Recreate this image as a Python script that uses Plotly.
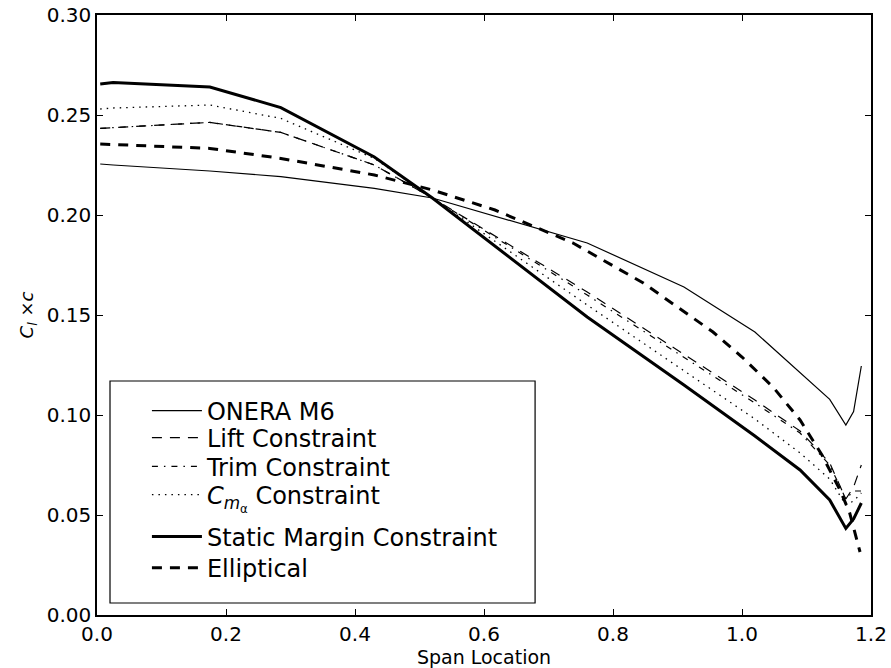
import plotly.graph_objects as go

# span stations
x_st = [0.005, 0.025, 0.175, 0.285, 0.43, 0.52, 0.76, 0.91, 1.02, 1.09, 1.136, 1.161, 1.173, 1.185]

onera = [0.2255, 0.2250, 0.2220, 0.2192, 0.2133, 0.2085, 0.1860, 0.1640, 0.1415, 0.1210, 0.1078, 0.0950, 0.1017, 0.1245]
lift = [0.2433, 0.2437, 0.2463, 0.2413, 0.2250, 0.2085, 0.1615, 0.1305, 0.1075, 0.0920, 0.0760, 0.0580, 0.0640, 0.0750]
trim = [0.2433, 0.2437, 0.2463, 0.2413, 0.2250, 0.2085, 0.1600, 0.1290, 0.1060, 0.0910, 0.0750, 0.0580, 0.0620, 0.0620]
cma = [0.2530, 0.2535, 0.2550, 0.2483, 0.2283, 0.2085, 0.1550, 0.1220, 0.0980, 0.0810, 0.0680, 0.0550, 0.0570, 0.0610]
static = [0.2655, 0.2662, 0.2640, 0.2537, 0.2290, 0.2085, 0.1490, 0.1150, 0.0895, 0.0725, 0.0575, 0.0433, 0.0480, 0.0560]

x_ell = [0.005, 0.175, 0.285, 0.43, 0.52, 0.617, 0.738, 0.847, 0.955, 1.0, 1.048, 1.09, 1.124, 1.152, 1.167, 1.183]
ell = [0.2355, 0.2333, 0.2283, 0.2200, 0.2125, 0.2025, 0.1860, 0.1660, 0.1415, 0.1290, 0.1140, 0.0975, 0.0800, 0.0625, 0.0510, 0.0315]

x_ticks = [0.0, 0.2, 0.4, 0.6, 0.8, 1.0, 1.2]
y_ticks = [0.00, 0.05, 0.10, 0.15, 0.20, 0.25, 0.30]

names = ["ONERA M6", "Lift Constraint", "Trim Constraint",
         "<i>C</i><sub><i>m</i><sub>α</sub></sub> Constraint",
         "Static Margin Constraint", "Elliptical"]

# legend entry vertical centres (paper fraction)
leg_y = [0.340, 0.295, 0.247, 0.200, 0.130, 0.078]

font_fam = "DejaVu Sans, sans-serif"

styles = [
    dict(color="black", width=1.2),
    dict(color="black", width=1.2, dash="10px,8px"),
    dict(color="black", width=1.2, dash="6px,6px,1.5px,6px"),
    dict(color="black", width=1.3, dash="1.5px,5px"),
    dict(color="black", width=3),
    dict(color="black", width=3, dash="10px,8px"),
]
xs = [x_st, x_st, x_st, x_st, x_st, x_ell]
ys = [onera, lift, trim, cma, static, ell]

fig = go.Figure()
legend_layouts = {}
for i in range(6):
    lname = "legend" if i == 0 else f"legend{i+1}"
    fig.add_trace(go.Scatter(x=xs[i], y=ys[i], mode="lines", name=names[i],
                             line=styles[i], legend=lname, showlegend=True))
    legend_layouts[lname] = dict(x=0.0645, y=leg_y[i], xanchor="left", yanchor="middle",
                                 bgcolor="rgba(0,0,0,0)", borderwidth=0, itemwidth=50,
                                 visible=True,
                                 font=dict(family=font_fam, size=24, color="black"))

axis_common = dict(showgrid=False, zeroline=False, showline=True, linecolor="black",
                   linewidth=1.5, mirror="allticks", ticks="inside", ticklen=6,
                   tickcolor="black", tickwidth=1, automargin=False,
                   tickfont=dict(family=font_fam, size=20, color="black"))

fig.update_layout(
    width=891, height=668,
    margin=dict(l=97, r=20, t=15, b=53),
    plot_bgcolor="white", paper_bgcolor="white",
    showlegend=True,
    xaxis=dict(range=[0, 1.2], tickvals=x_ticks, tickformat=".1f",
               title=dict(text="Span Location", font=dict(family=font_fam, size=19, color="black"),
                          standoff=2),
               **axis_common),
    yaxis=dict(range=[0, 0.30], tickvals=y_ticks, tickformat=".2f",
               title=dict(text="<i>C<sub>l</sub></i> ×<i>c</i>",
                          font=dict(family=font_fam, size=18, color="black"), standoff=8),
               **axis_common),
    shapes=[dict(type="rect", xref="paper", yref="paper",
                 x0=0.0168, x1=0.566, y0=0.02, y1=0.39,
                 line=dict(color="black", width=1.2), fillcolor="white", layer="below")],
    **legend_layouts,
)

fig.write_html("out.html")
